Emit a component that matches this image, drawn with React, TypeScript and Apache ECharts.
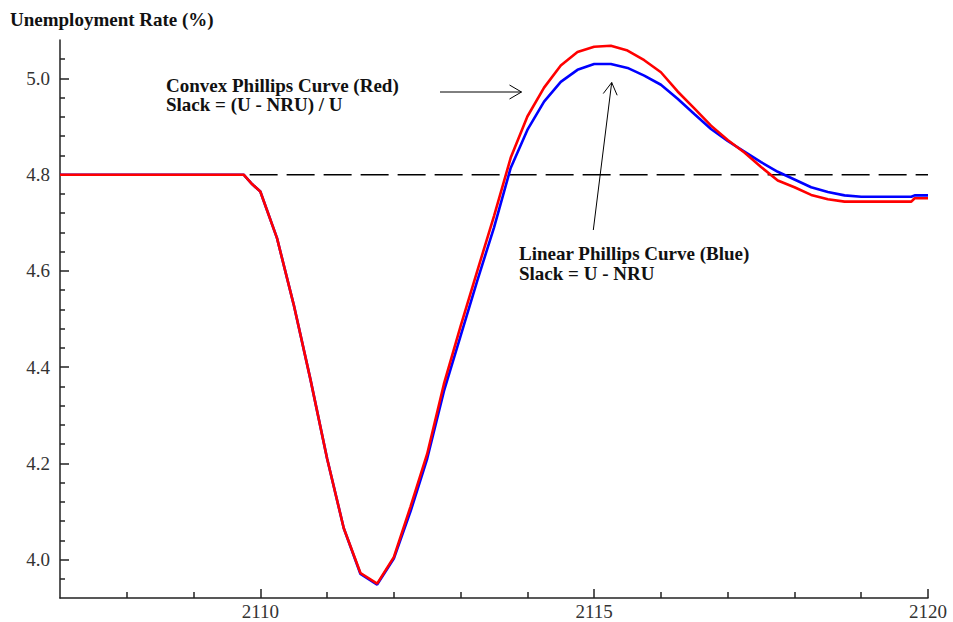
import React, { useEffect, useRef } from "react";
import * as echarts from "echarts";

// Time (years, quarterly) shared by both simulated paths
const years = [
  2107, 2109.75, 2109.88, 2110, 2110.25, 2110.5, 2110.75, 2111, 2111.25, 2111.5,
  2111.75, 2112, 2112.25, 2112.5, 2112.75, 2113, 2113.25, 2113.5, 2113.75, 2114,
  2114.25, 2114.5, 2114.75, 2115, 2115.25, 2115.5, 2115.75, 2116, 2116.25, 2116.5,
  2116.75, 2117, 2117.25, 2117.5, 2117.75, 2118, 2118.25, 2118.5, 2118.75, 2119,
  2119.25, 2119.5, 2119.75, 2119.8, 2120,
];

// Convex Phillips curve (red)
const convexRed = [
  4.8, 4.8, 4.78, 4.765, 4.668, 4.53, 4.375, 4.21, 4.065, 3.972,
  3.95, 4.005, 4.11, 4.22, 4.365, 4.485, 4.6, 4.714, 4.835, 4.921,
  4.981, 5.027, 5.055, 5.066, 5.068, 5.058, 5.038, 5.013, 4.973, 4.938,
  4.902, 4.872, 4.846, 4.816, 4.788, 4.774, 4.758, 4.749, 4.744, 4.744,
  4.744, 4.744, 4.744, 4.751, 4.751,
];

// Linear Phillips curve (blue)
const linearBlue = [
  4.8, 4.8, 4.78, 4.765, 4.668, 4.53, 4.375, 4.21, 4.065, 3.97,
  3.948, 4.002, 4.1, 4.21, 4.35, 4.465, 4.58, 4.69, 4.814, 4.893,
  4.952, 4.993, 5.018, 5.03, 5.03, 5.022, 5.006, 4.987, 4.958, 4.926,
  4.895, 4.87, 4.848, 4.826, 4.806, 4.79, 4.774, 4.764, 4.757, 4.754,
  4.754, 4.754, 4.754, 4.757, 4.757,
];

// Natural rate (dashed reference line)
const nruLevel = [4.8];
const nruSpan = [2109.84, 2120];

// Axes
const xRange = [2107, 2120];
const yRange = [3.92, 5.08];
const xTickLabels = [2110, 2115, 2120];
const xMinorTicks = [2108, 2109, 2111, 2112, 2113, 2114, 2116, 2117, 2118, 2119];
const yTickLabels = [4.0, 4.2, 4.4, 4.6, 4.8, 5.0];
const yMinorTicks = [
  3.96, 4.04, 4.08, 4.12, 4.16, 4.24, 4.28, 4.32, 4.36, 4.44, 4.48,
  4.52, 4.56, 4.64, 4.68, 4.72, 4.76, 4.84, 4.88, 4.92, 4.96, 5.04,
];

const SERIF = '"Liberation Serif", "Times New Roman", serif';
const AXIS_COLOR = "#222";

function arrowHead(fx: number, fy: number, tx: number, ty: number, back = 12, half = 7) {
  const dx = tx - fx;
  const dy = ty - fy;
  const len = Math.sqrt(dx * dx + dy * dy);
  const ux = dx / len;
  const uy = dy / len;
  const nx = -uy;
  const ny = ux;
  return [
    [tx - back * ux + half * nx, ty - back * uy + half * ny],
    [tx, ty],
    [tx - back * ux - half * nx, ty - back * uy - half * ny],
  ];
}

export default function App() {
  const ref = useRef<HTMLDivElement>(null);

  useEffect(() => {
    if (!ref.current) return;
    const chart = echarts.init(ref.current, undefined, { renderer: "svg" });

    const a1 = { fx: 440, fy: 92, tx: 521.5, ty: 92 };
    const a2 = { fx: 593.3, fy: 230, tx: 611.7, ty: 82.5 };
    const textFont = `bold 19px ${SERIF}`;
    const titleFont = `bold 19px ${SERIF}`;

    const option: any = {
      animation: false,
      backgroundColor: "#fff",
      grid: { left: 60, right: 25, top: 40, bottom: 24, containLabel: false },
      xAxis: [
        {
          type: "value",
          min: xRange[0],
          max: xRange[1],
          position: "bottom",
          axisLine: { show: true, lineStyle: { color: AXIS_COLOR, width: 1.5 } },
          axisTick: {
            show: true,
            inside: true,
            length: 9,
            customValues: xTickLabels,
            lineStyle: { color: AXIS_COLOR, width: 1.5 },
          },
          axisLabel: {
            customValues: xTickLabels,
            formatter: (v: number) => String(v),
            fontFamily: SERIF,
            fontSize: 19,
            color: "#333",
            margin: 4,
          },
          splitLine: { show: false },
        },
        {
          type: "value",
          min: xRange[0],
          max: xRange[1],
          position: "bottom",
          offset: 0,
          axisLine: { show: false },
          axisTick: {
            show: true,
            inside: true,
            length: 6,
            customValues: xMinorTicks,
            lineStyle: { color: AXIS_COLOR, width: 1.5 },
          },
          axisLabel: { show: false },
          splitLine: { show: false },
        },
      ],
      yAxis: [
        {
          type: "value",
          min: yRange[0],
          max: yRange[1],
          position: "left",
          axisLine: { show: true, lineStyle: { color: AXIS_COLOR, width: 1.5 } },
          axisTick: {
            show: true,
            inside: true,
            length: 9,
            customValues: yTickLabels,
            lineStyle: { color: AXIS_COLOR, width: 1.5 },
          },
          axisLabel: {
            customValues: yTickLabels,
            formatter: (v: number) => v.toFixed(1),
            fontFamily: SERIF,
            fontSize: 19,
            color: "#333",
            margin: 10,
          },
          splitLine: { show: false },
        },
        {
          type: "value",
          min: yRange[0],
          max: yRange[1],
          position: "left",
          offset: 0,
          axisLine: { show: false },
          axisTick: {
            show: true,
            inside: true,
            length: 5,
            customValues: yMinorTicks,
            lineStyle: { color: AXIS_COLOR, width: 1.5 },
          },
          axisLabel: { show: false },
          splitLine: { show: false },
        },
      ],
      series: [
        {
          name: "NRU",
          type: "line",
          xAxisIndex: 0,
          yAxisIndex: 0,
          data: nruSpan.map((x) => [x, nruLevel[0]]),
          symbol: "none",
          lineStyle: { color: "#000", width: 1.5, type: [28, 9] },
          z: 2,
        },
        {
          name: "Linear Phillips Curve (Blue)",
          type: "line",
          xAxisIndex: 0,
          yAxisIndex: 0,
          data: years.map((x, i) => [x, linearBlue[i]]),
          symbol: "none",
          lineStyle: { color: "#0000ff", width: 2.6 },
          z: 3,
        },
        {
          name: "Convex Phillips Curve (Red)",
          type: "line",
          xAxisIndex: 0,
          yAxisIndex: 0,
          data: years.map((x, i) => [x, convexRed[i]]),
          symbol: "none",
          lineStyle: { color: "#ff0000", width: 2.6 },
          z: 4,
        },
      ],
      graphic: [
        {
          type: "text",
          x: 10,
          y: 19,
          style: {
            text: "Unemployment Rate (%)",
            font: titleFont,
            fill: "#111",
            verticalAlign: "middle",
          },
        },
        {
          type: "text",
          x: 166,
          y: 85,
          style: { text: "Convex Phillips Curve (Red)", font: textFont, fill: "#111", verticalAlign: "middle" },
        },
        {
          type: "text",
          x: 166,
          y: 104.5,
          style: { text: "Slack = (U - NRU) / U", font: textFont, fill: "#111", verticalAlign: "middle" },
        },
        {
          type: "text",
          x: 519,
          y: 253.5,
          style: { text: "Linear Phillips Curve (Blue)", font: textFont, fill: "#111", verticalAlign: "middle" },
        },
        {
          type: "text",
          x: 519,
          y: 273,
          style: { text: "Slack = U - NRU", font: textFont, fill: "#111", verticalAlign: "middle" },
        },
        {
          type: "line",
          shape: { x1: a1.fx, y1: a1.fy, x2: a1.tx, y2: a1.ty },
          style: { stroke: "#000", lineWidth: 1 },
        },
        {
          type: "polyline",
          shape: { points: arrowHead(a1.fx, a1.fy, a1.tx, a1.ty) },
          style: { stroke: "#000", lineWidth: 1, fill: null },
        },
        {
          type: "line",
          shape: { x1: a2.fx, y1: a2.fy, x2: a2.tx, y2: a2.ty },
          style: { stroke: "#000", lineWidth: 1 },
        },
        {
          type: "polyline",
          shape: { points: arrowHead(a2.fx, a2.fy, a2.tx, a2.ty) },
          style: { stroke: "#000", lineWidth: 1, fill: null },
        },
      ],
    };

    chart.setOption(option);
    return () => chart.dispose();
  }, []);

  return (
    <div
      ref={ref}
      style={{ position: "fixed", left: 0, top: 0, width: 953, height: 622, background: "#fff" }}
    />
  );
}
